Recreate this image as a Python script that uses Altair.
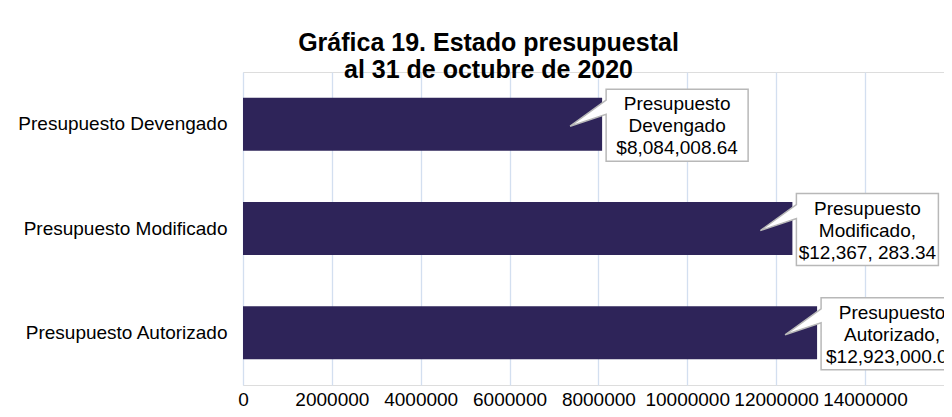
import altair as alt
import pandas as pd

categories = ["Presupuesto Devengado", "Presupuesto Modificado", "Presupuesto Autorizado"]
values = [8084008.64, 12367283.34, 12923000.00]
callout_lines = [
    ["Presupuesto", "Devengado", "$8,084,008.64"],
    ["Presupuesto", "Modificado,", "$12,367, 283.34"],
    ["Presupuesto", "Autorizado,", "$12,923,000.00"],
]
tick_values = [0, 2000000, 4000000, 6000000, 8000000, 10000000, 12000000, 14000000]
title_lines = ["Gráfica 19. Estado presupuestal", "al 31 de octubre de 2020"]

df = pd.DataFrame({"cat": categories, "val": values, "lbl": callout_lines})

FONT = "Liberation Sans"
BAR = "#2e2459"
GRID = "#d3dff0"

callout_path = "M4,-35 L146,-35 L146,37 L4,37 L4,-10 L-32,2 L4,-24 Z"

x_enc = alt.X("val:Q", scale=alt.Scale(domain=[0, 15780000], nice=False),
              axis=alt.Axis(values=tick_values, format="d", grid=True, gridColor=GRID,
                            gridWidth=1.3, domain=False, ticks=False, labelFontSize=19,
                            labelFont=FONT, labelColor="black", labelPadding=5, title=None,
                            labelFlush=False))
y_enc = alt.Y("cat:N", sort=categories,
              scale=alt.Scale(paddingInner=0, paddingOuter=0),
              axis=alt.Axis(domain=False, ticks=False, labelFontSize=19, labelFont=FONT,
                            labelColor="black", labelPadding=16, title=None, grid=False,
                            labelLimit=300))

base = alt.Chart(df)

bars = base.mark_bar(color=BAR, size=53).encode(x=x_enc, y=y_enc)

callouts = base.mark_point(shape=callout_path, size=4, filled=True, fill="white",
                           stroke="#b8b8b8", strokeWidth=1.5, opacity=1,
                           fillOpacity=1, strokeOpacity=1).encode(x="val:Q", y=alt.Y("cat:N", sort=categories))

texts = base.mark_text(font=FONT, fontSize=19, lineHeight=22, align="center",
                       baseline="middle", dx=75, dy=-20, color="black").encode(
    x="val:Q", y=alt.Y("cat:N", sort=categories), text="lbl")

chart = alt.layer(bars, callouts, texts).properties(
    width=701, height=313,
    title=alt.Title(title_lines, fontSize=25, font=FONT, fontWeight="bold", color="black",
                    anchor="middle", dx=-105, dy=11, offset=0, lineHeight=27),
    autosize=alt.AutoSizeParams(type="none"),
    padding={"left": 235, "top": 64, "right": 0, "bottom": 24},
).configure_view(stroke="transparent").configure(background="white")

chart.save("out.html", embed_options={"renderer": "svg", "actions": False})
